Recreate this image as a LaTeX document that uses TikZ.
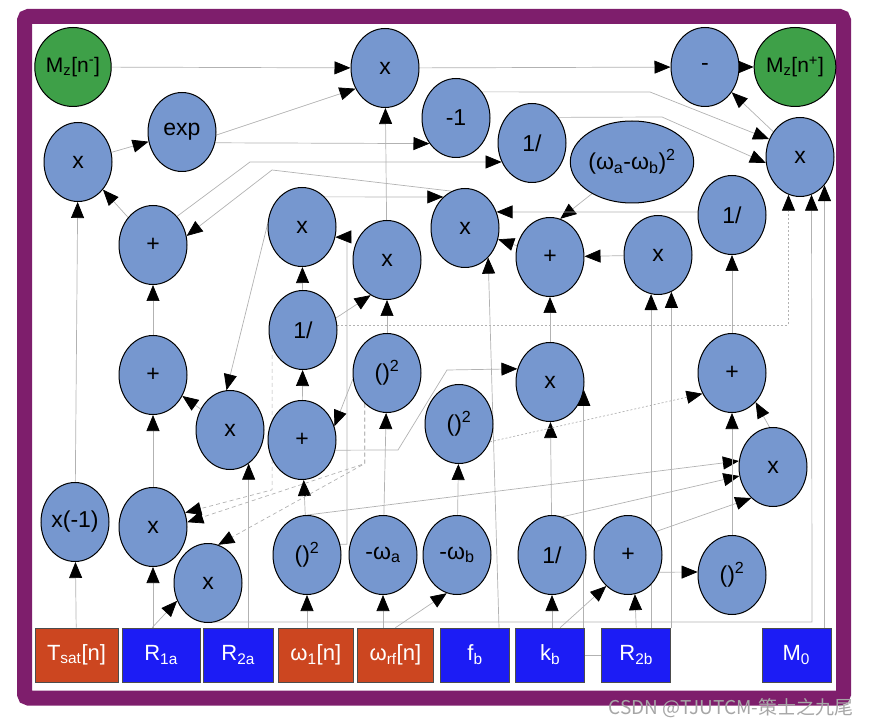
\documentclass[tikz,border=0pt]{standalone}
\usepackage{fontspec}
\setmainfont{Liberation Sans}
\newfontfamily\cjkfont{Noto Sans CJK SC}
\usetikzlibrary{arrows.meta,shapes.geometric,positioning}
\pgfdeclarelayer{background}
\pgfsetlayers{background,main}
\definecolor{opblue}{RGB}{118,151,207}
\definecolor{mzgreen}{RGB}{62,160,72}
\definecolor{extred}{RGB}{204,70,32}
\definecolor{parblue}{RGB}{28,28,245}
\definecolor{framepurple}{RGB}{126,30,108}
\definecolor{wiregray}{RGB}{178,178,178}

\begin{document}
\begin{tikzpicture}[x=1pt, y=-1pt,
    op/.style = {ellipse, draw=black, line width=1pt, fill=opblue, minimum width=68pt,
      minimum height=79pt, inner sep=0pt, font=\fontsize{23}{26}\selectfont},
    mz/.style = {op, fill=mzgreen, font=\fontsize{21}{24}\selectfont},
    src/.style = {draw=black!70, line width=0.6pt, minimum width=69pt, minimum height=54pt,
      inner sep=0pt, text=white, font=\fontsize{22}{25}\selectfont},
    ext/.style = {src, fill=extred},
    par/.style = {src, fill=parblue},
    wire/.style = {draw=wiregray, line width=0.7pt,
      -{Triangle[length=16pt, width=13pt, color=black, fill=black]}},
    dwire/.style = {wire, dash pattern=on 4pt off 3pt},
    fwire/.style = {wire, dash pattern=on 2pt off 2pt}]
    \useasboundingbox (0,0) rectangle (873,727);

      \node[mz] (mzm) at (73,67) {M\textsubscript{z}[n\textsuperscript{-}]};
      \node[op] (ex) at (182,132) {exp};
      \node[op] (x1) at (78,162) {x};
      \node[op] (xt) at (385,68) {x};
      \node[op] (m1) at (456,118) {-1};
      \node[op] (inv1) at (532,143) {1/};
      \node[op, minimum width=114pt, minimum height=82pt] (dw) at (632,162)
        {(ω\textsubscript{a}-ω\textsubscript{b})\textsuperscript{2}};
      \node[op] (mn) at (705,67) {-};
      \node[mz] (mzp) at (795,67) {M\textsubscript{z}[n\textsuperscript{+}]};
      \node[op] (xr) at (800,157) {x};

      \node[op] (p1) at (153,245) {+};
      \node[op] (x2) at (302,227) {x};
      \node[op] (x3) at (387,260) {x};
      \node[op] (x4) at (465,228) {x};
      \node[op] (p2) at (550,257) {+};
      \node[op] (x5) at (658,255) {x};
      \node[op] (inv2) at (732,215) {1/};

      \node[op] (p3) at (153,375) {+};
      \node[op] (inv3) at (303,330) {1/};
      \node[op] (sq1) at (387,373) {()\textsuperscript{2}};
      \node[op] (x6) at (230,430) {x};
      \node[op] (p4) at (302,440) {+};
      \node[op] (sq2) at (459,424) {()\textsuperscript{2}};
      \node[op] (x7) at (550,382) {x};
      \node[op] (p5) at (732,373) {+};
      \node[op] (x8) at (773,467) {x};

      \node[op] (xm1) at (75,522) {x(-1)};
      \node[op] (x9) at (153,527) {x};
      \node[op] (x10) at (208,583) {x};
      \node[op] (sq3) at (307,555) {()\textsuperscript{2}};
      \node[op] (mwa) at (383,555) {-ω\textsubscript{a}};
      \node[op] (mwb) at (457,555) {-ω\textsubscript{b}};
      \node[op] (inv4) at (552,555) {1/};
      \node[op] (p6) at (628,555) {+};
      \node[op] (sq4) at (732,575) {()\textsuperscript{2}};

      \node[ext, minimum width=83pt] (tsat) at (76.5,655) {T\textsubscript{sat}[n]};
      \node[par, minimum width=78pt, right=3.5pt of tsat] (r1a) {R\textsubscript{1a}};
      \node[par, minimum width=70pt, right=2.5pt of r1a] (r2a) {R\textsubscript{2a}};
      \node[ext, minimum width=75pt, right=4.5pt of r2a] (w1) {ω\textsubscript{1}[n]};
      \node[ext, minimum width=76pt, right=3.5pt of w1] (wrf) {ω\textsubscript{rf}[n]};
      \node[par, right=6.5pt of wrf] (fb) {f\textsubscript{b}};
      \node[par, right=5.5pt of fb] (kb) {k\textsubscript{b}};
      \node[par, right=16.5pt of kb] (r2b) {R\textsubscript{2b}};
      \node[par, right=90.5pt of r2b] (m0) {M\textsubscript{0}};

      \coordinate (bus) at (812,622);

    \begin{pgfonlayer}{background}
      \draw[framepurple, line width=15pt, rounded corners=4pt] (24.5,16.5) rectangle (843.5,698);

      \draw[wire] (mzm) -- (xt);
      \draw[wire] (x1) -- (ex);
      \draw[wire] (ex.-5) -- (xt.-145);
      \draw[wire] (ex.-18) -- (m1.-136);
      \draw[wire] (xt) -- (mn);
      \draw[wire] (mn) -- (mzp);
      \draw[wire] (xr) -- (mn);
      \draw[wire] (m1.45) -- (650,92) -- (xr.150);
      \draw[wire] (inv1.44) -- (662,117) -- (xr.190);
      \draw[wire] (p1.50) -- (250,162) -- (inv1.-148);
      \draw[wire] (x4.110) -- (272,170) -- (p1.15);
      \draw[wire] (x2.53) -- (x4.125);
      \draw[wire] (x3) -- (xt);

      \draw[wire] (sq3.18) -| (347,237) -- (x2.-17);
      \draw[wire] (inv3) -- (x2);
      \draw[wire] (p4) -- (inv3);
      \draw[wire] (sq3) -- (p4);
      \draw[wire] (sq3 |- w1.north) -- (sq3);
      \draw[wire] (mwa |- wrf.north) -- (mwa);
      \draw[wire] (mwa) -- (sq1);
      \draw[wire] (sq1) -- (x3);
      \draw[wire] (inv3.20) -- (x3.-115);
      \draw[wire] (sq1.190) -- (p4.23);
      \draw[wire] (p4.-17) -- (398,450) -- (447,370) -- (x7.158);

      \draw[wire] (inv4) -- (x7);
      \draw[wire] (r2b.west) -| (x7.-13);
      \draw[wire] (x7) -- (p2);
      \draw[wire] (x5) -- (p2);
      \draw[wire] (dw) -- (p2.75);
      \draw[wire] (inv2.175) -- (x4.27);
      \draw[wire] (p2) -- (x4);
      \draw[wire] ([xshift=24pt]fb.north) -- (x4.-52);
      \draw[wire] (x5.-100 |- r2b.north) -- (x5.-100);
      \draw[wire] (x5.-70 |- r2b.north) -- (x5.-70);
      \draw[wire] (p5) -- (inv2);

      \draw[fwire] (inv3.8) -| (xr.-107);
      \draw[wire] (x10.-88) |- (bus) -- (xr.-73);
      \draw[wire] (xr.-49 |- m0.north) -- (xr.-49);

      \draw[wire] (sq3.north) -- (x8.170);
      \draw[wire] (inv4.75) -- (x8.-165);
      \draw[wire] (p6.40) -- (x8.-125);
      \draw[wire] (sq4) -- (p5);
      \draw[wire] (x8.95) -- (p5.-51);
      \draw[fwire] (sq2.-30) -- (p5.-145);
      \draw[wire] (p6.-29) -- (sq4.175);
      \draw[wire] (r2b.north) -- (p6.-80);
      \draw[wire] ([xshift=10pt]kb.north) -- (p6.-125);
      \draw[wire] (inv4 |- kb.north) -- (inv4);
      \draw[wire] (wrf.north) -- (mwb.-105);
      \draw[wire] (mwb) -- (sq2);

      \draw[wire] (x6.-61 |- r2a.north) -- (x6.-61);
      \draw[wire] (x6) -- (p3);
      \draw[wire] (x2.175) -- (x6.95);
      \draw[wire] (x9) -- (p3);
      \draw[wire] (p3) -- (p1);
      \draw[wire] (p1) -- (x1);
      \draw[wire] (xm1) -- (x1);
      \draw[wire] (tsat) -- (xm1);
      \draw[wire] (x9 |- r1a.north) -- (x9);
      \draw[wire] ([xshift=-9pt]r1a.north) -- (x10.-150);

      \draw[dwire] (inv3.-150) -- ++(0,142) -- (x9.24);
      \draw[dwire] (sq1.-126) -- ++(0,60) -- (x9.8);
      \draw[dwire] (sq1.-126) -- ++(0,60) -- (x10.75);
    \end{pgfonlayer}

      \node[font=\cjkfont\fontsize{19}{21}\selectfont, text=black!35, anchor=east] (wm) at (857,708)
        {CSDN @TJUTCM-策士之九尾};
\end{tikzpicture}
\end{document}
